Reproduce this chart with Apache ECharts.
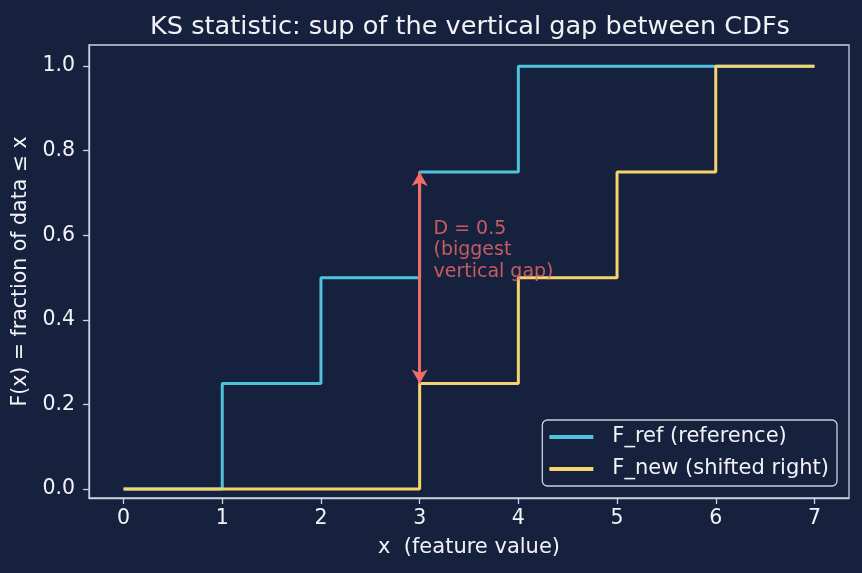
<!DOCTYPE html>
<html>
<head>
<meta charset="utf-8">
<script src="https://cdn.jsdelivr.net/npm/echarts@6/dist/echarts.min.js"></script>
<style>
  html, body { margin: 0; padding: 0; background: #16213e; }
  #chart { width: 862px; height: 573px; }
</style>
</head>
<body>
<div id="chart"></div>
<script>
// evaluation grid for both ECDFs
const xGrid = [0, 1, 2, 3, 4, 5, 6, 7];
const refCdf = [0, 0.25, 0.5, 0.75, 1.0, 1.0, 1.0, 1.0];
const newCdf = [0, 0, 0, 0.25, 0.5, 0.75, 1.0, 1.0];

const xTicks = [0, 1, 2, 3, 4, 5, 6, 7];
const yTicks = [0, 0.2, 0.4, 0.6, 0.8, 1.0];

// biggest gap marker
const gapX = 3;
const gapLow = 0.25;
const gapHigh = 0.75;
const gapLabelPos = [3.14, 0.565];
const gapLabel = 'D = 0.5\n(biggest\nvertical gap)';

const BG = '#16213e';
const FG = '#c9d0de';
const TXT = '#f2f3f7';
const FONT = 'DejaVu Sans';

const chart = echarts.init(document.getElementById('chart'), null, { renderer: 'canvas' });

chart.setOption({
  backgroundColor: BG,
  animation: false,
  textStyle: { fontFamily: FONT },
  title: {
    text: 'KS statistic: sup of the vertical gap between CDFs',
    left: 465,
    textAlign: 'center',
    top: 9,
    textStyle: { color: TXT, fontSize: 25.6, fontWeight: 'normal', fontFamily: FONT }
  },
  grid: {
    left: 89,
    right: 13,
    top: 45,
    bottom: 75,
    show: true,
    borderColor: FG,
    borderWidth: 1.3,
    backgroundColor: 'transparent'
  },
  legend: {
    orient: 'vertical',
    right: 25,
    bottom: 87,
    padding: [6, 8, 6, 7],
    icon: 'rect',
    itemWidth: 44,
    itemHeight: 4,
    itemGap: 10,
    backgroundColor: 'rgba(22,33,62,0.85)',
    borderColor: FG,
    borderWidth: 1.3,
    borderRadius: 5,
    textStyle: { color: TXT, fontSize: 21, lineHeight: 22, fontFamily: FONT, padding: [0, 0, 0, 14] },
    data: ['F_ref (reference)', 'F_new (shifted right)']
  },
  xAxis: {
    type: 'value',
    min: -0.35,
    max: 7.35,
    name: 'x  (feature value)',
    nameLocation: 'middle',
    nameGap: 39,
    nameTextStyle: { color: TXT, fontSize: 21, fontFamily: FONT },
    splitLine: { show: false },
    axisLine: { show: true, onZero: false, lineStyle: { color: FG, width: 1.3 } },
    axisTick: { show: true, length: 6, lineStyle: { color: FG, width: 1.3 }, customValues: xTicks },
    axisLabel: { color: TXT, fontSize: 20.5, margin: 10, customValues: xTicks, formatter: v => String(v) }
  },
  yAxis: {
    type: 'value',
    min: -0.021,
    max: 1.05,
    name: 'F(x) = fraction of data ≤ x',
    nameLocation: 'middle',
    nameRotate: 90,
    nameGap: 51,
    nameTextStyle: { color: TXT, fontSize: 20.5, fontFamily: FONT },
    splitLine: { show: false },
    axisLine: { show: true, onZero: false, lineStyle: { color: FG, width: 1.3 } },
    axisTick: { show: true, length: 6, lineStyle: { color: FG, width: 1.3 }, customValues: yTicks },
    axisLabel: { color: TXT, fontSize: 20.5, margin: 14, customValues: yTicks, formatter: v => v.toFixed(1) }
  },
  series: [
    {
      name: 'F_ref (reference)',
      type: 'line',
      step: 'end',
      symbol: 'none',
      data: xGrid.map((x, i) => [x, refCdf[i]]),
      lineStyle: { color: '#4fc3dc', width: 3 },
      itemStyle: { color: '#4fc3dc' },
      z: 2
    },
    {
      name: 'F_new (shifted right)',
      type: 'line',
      step: 'end',
      symbol: 'none',
      data: xGrid.map((x, i) => [x, newCdf[i]]),
      lineStyle: { color: '#f5d36e', width: 3 },
      itemStyle: { color: '#f5d36e' },
      z: 3
    },
    {
      name: 'gap',
      type: 'scatter',
      data: [[gapLabelPos[0], gapLabelPos[1]]],
      symbolSize: 0,
      silent: true,
      z: 5,
      label: {
        show: true,
        position: 'inside',
        align: 'left',
        verticalAlign: 'middle',
        formatter: gapLabel,
        color: '#f26b6b',
        fontSize: 19,
        lineHeight: 21.5,
        fontFamily: FONT
      },
      markLine: {
        silent: true,
        symbol: ['arrow', 'arrow'],
        symbolSize: [12, 14],
        label: { show: false },
        lineStyle: { color: '#f26b6b', width: 3, type: 'solid' },
        data: [[{ coord: [gapX, gapLow] }, { coord: [gapX, gapHigh] }]]
      }
    }
  ]
});
</script>
</body>
</html>
